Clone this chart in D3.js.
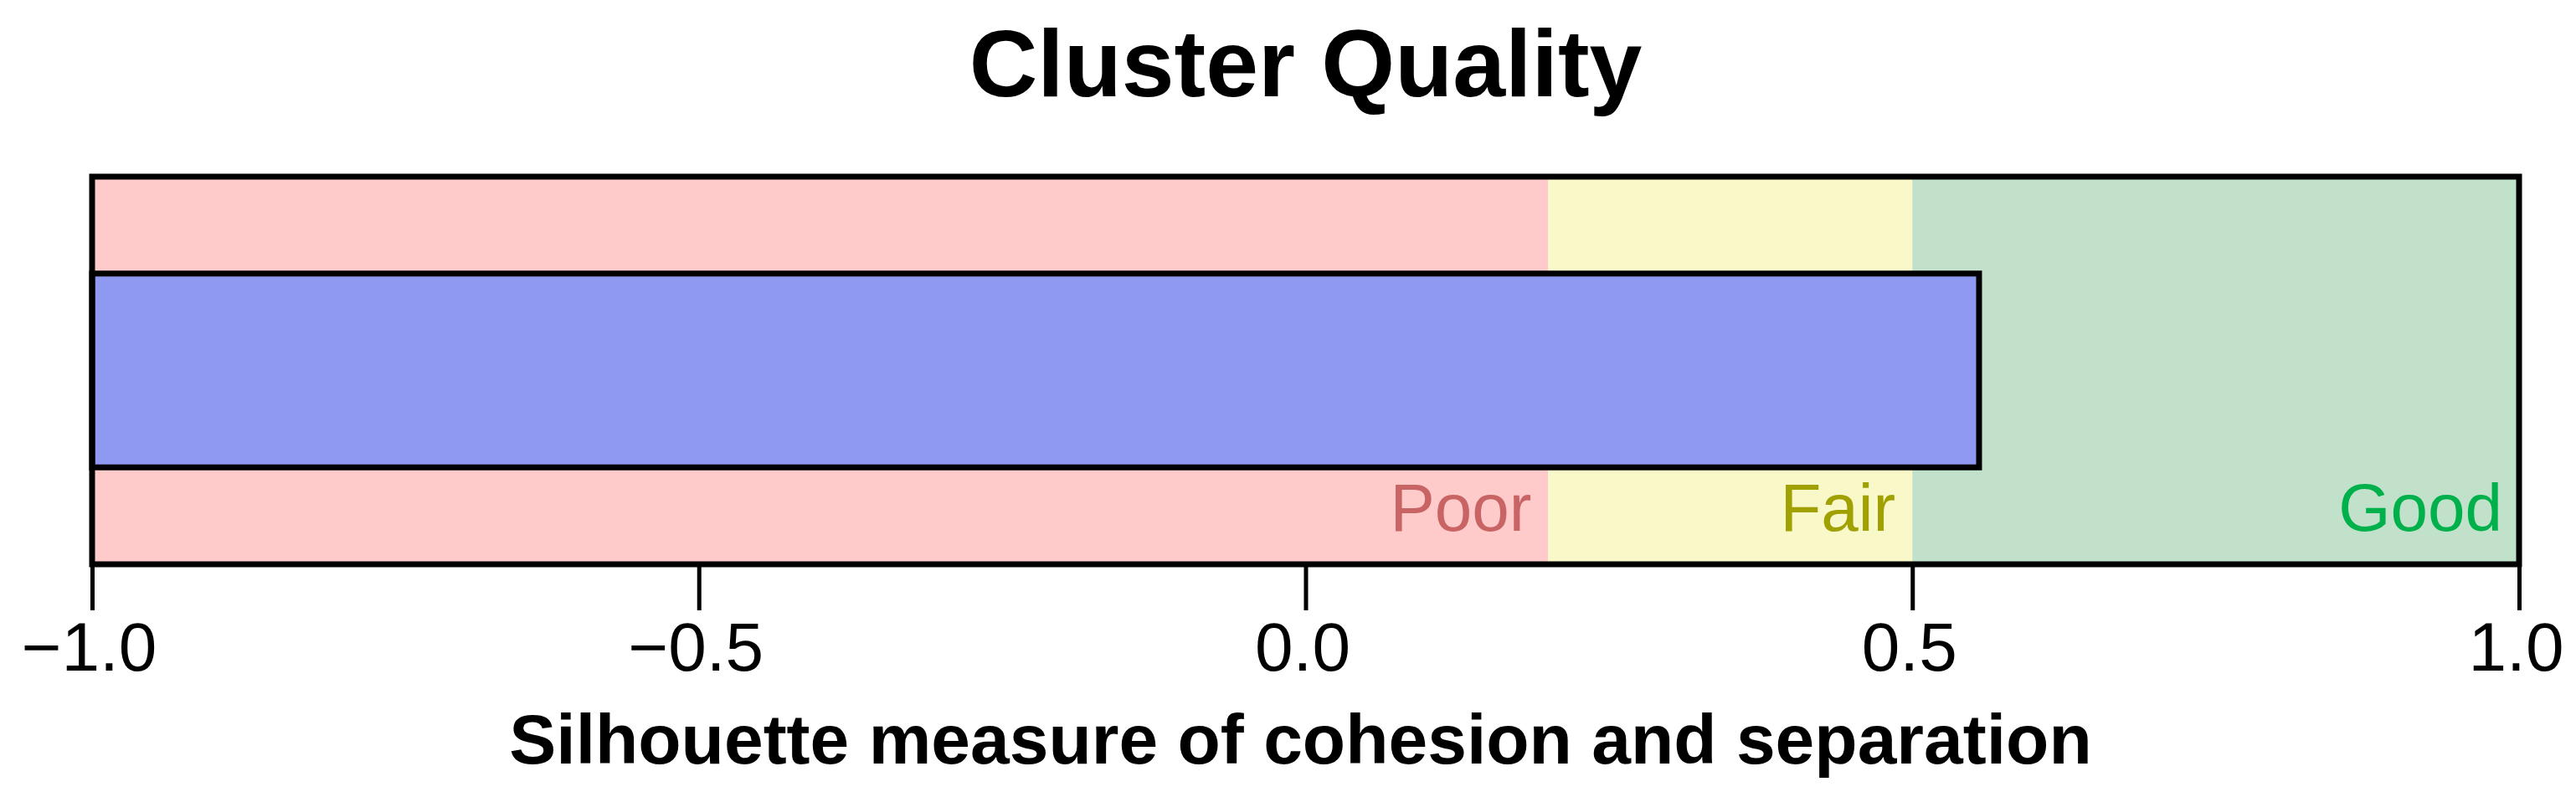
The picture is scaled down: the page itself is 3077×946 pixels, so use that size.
<!DOCTYPE html>
<html><head><meta charset="utf-8">
<script src="https://cdn.jsdelivr.net/npm/d3@7"></script>
<style>html,body{margin:0;padding:0;background:#fff;}svg{display:block;}</style>
</head><body>
<script>
const categories = ["Silhouette"];
const values = [0.555];
const bandNames = ["Poor", "Fair", "Good"];
const bandStarts = [-1.0, 0.2, 0.5];
const bandEnds = [0.2, 0.5, 1.0];
const bandFills = ["#fecaca", "#f8f8c8", "#c1e1cb"];
const bandTextColors = ["#c86464", "#a0a000", "#00b04a"];
const tickValues = [-1.0, -0.5, 0.0, 0.5, 1.0];
const tickLabels = ["\u22121.0", "\u22120.5", "0.0", "0.5", "1.0"];
const titleText = "Cluster Quality";
const xTitle = "Silhouette measure of cohesion and separation";

const W = 3077, H = 946;
const margin = {left: 110, right: 68, top: 211, bottom: 272};
const font = "'Liberation Sans', Arial, Helvetica, sans-serif";

const svg = d3.select("body").append("svg").attr("width", W).attr("height", H);

const x = d3.scaleLinear().domain([-1, 1]).range([margin.left, W - margin.right]);
const y = d3.scaleBand().domain(categories).range([margin.top, H - margin.bottom]).paddingInner(0).paddingOuter(0.5);
const y0 = margin.top, y1 = H - margin.bottom;

// background bands
svg.append("g").selectAll("rect").data(bandNames).join("rect")
  .attr("x", (d, i) => x(bandStarts[i]))
  .attr("width", (d, i) => x(bandEnds[i]) - x(bandStarts[i]))
  .attr("y", y0).attr("height", y1 - y0)
  .attr("fill", (d, i) => bandFills[i]);

// band labels
svg.append("g").selectAll("text").data(bandNames).join("text")
  .attr("x", (d, i) => x(bandEnds[i]) - 20)
  .attr("y", y1 - 40)
  .attr("text-anchor", "end")
  .attr("font-family", font).attr("font-size", 80)
  .attr("fill", (d, i) => bandTextColors[i])
  .text(d => d);

// bar
svg.append("g").selectAll("rect").data(categories).join("rect")
  .attr("x", x(-1))
  .attr("width", (d, i) => x(values[i]) - x(-1))
  .attr("y", d => y(d)).attr("height", y.bandwidth())
  .attr("fill", "#8f99f2").attr("stroke", "#000").attr("stroke-width", 7);

// frame
svg.append("rect")
  .attr("x", x(-1)).attr("y", y0)
  .attr("width", x(1) - x(-1)).attr("height", y1 - y0)
  .attr("fill", "none").attr("stroke", "#000").attr("stroke-width", 7);

// x axis
const axis = d3.axisBottom(x).tickValues(tickValues).tickSize(55).tickSizeOuter(0)
  .tickFormat((d, i) => tickLabels[i]);
const gx = svg.append("g").attr("transform", `translate(0,${y1})`).call(axis);
gx.select(".domain").remove();
gx.selectAll(".tick line").attr("stroke", "#000").attr("stroke-width", 5);
gx.selectAll(".tick text").attr("font-family", font).attr("font-size", 82)
  .attr("fill", "#000").attr("y", 0).attr("dy", 0)
  .attr("transform", "translate(-4,127)");

// title
svg.append("text").attr("x", (x(-1) + x(1)) / 2).attr("y", 115)
  .attr("text-anchor", "middle").attr("font-family", font).attr("font-weight", "bold")
  .attr("font-size", 113).attr("fill", "#000").text(titleText);

// x title
svg.append("text").attr("x", (x(-1) + x(1)) / 2 - 6).attr("y", 912)
  .attr("text-anchor", "middle").attr("font-family", font).attr("font-weight", "bold")
  .attr("font-size", 84).attr("fill", "#000").text(xTitle);
</script>
</body></html>
